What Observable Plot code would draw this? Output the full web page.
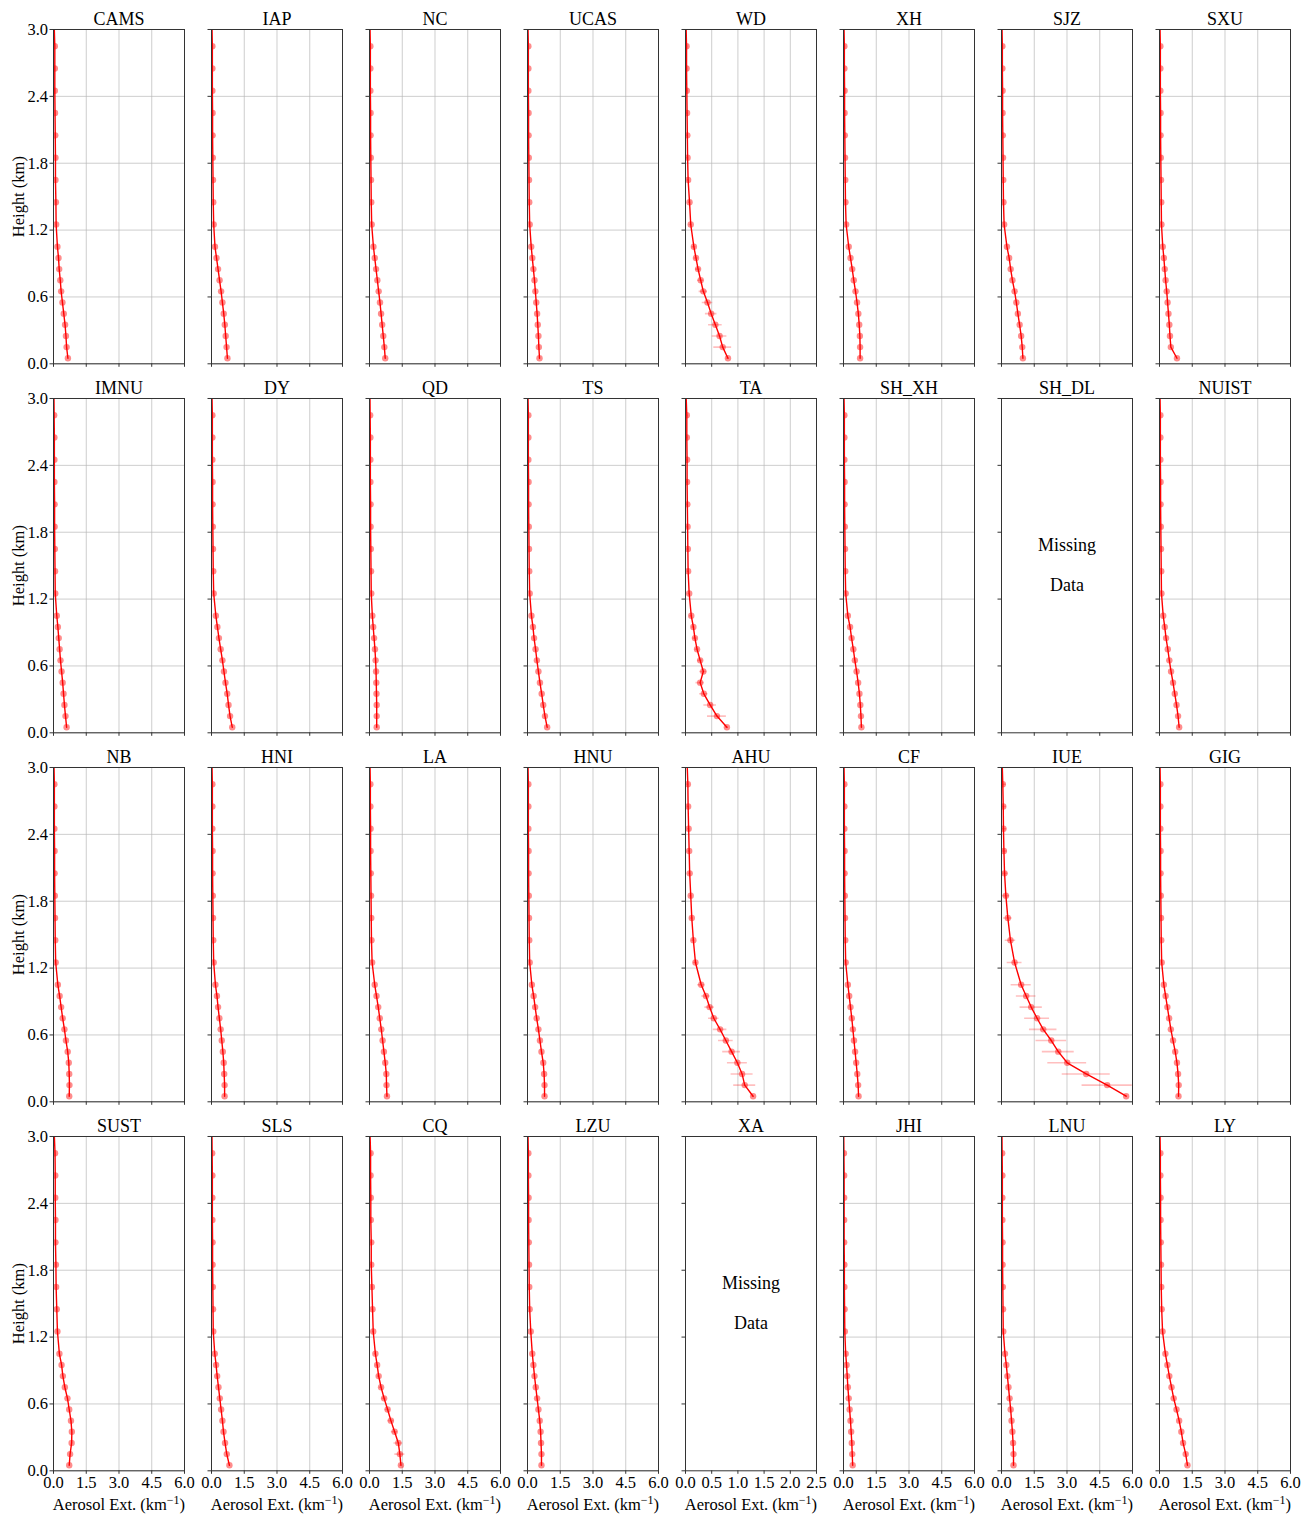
<!DOCTYPE html>
<html><head><meta charset="utf-8">
<script src="https://cdn.jsdelivr.net/npm/d3@7"></script>
<script src="https://cdn.jsdelivr.net/npm/@observablehq/plot@0.6"></script>
<style>
body{margin:0;background:#fff;}
#grid{position:relative;width:1312px;height:1517px;background:#fff;overflow:hidden;}
#grid svg{position:absolute;}
</style></head><body><div id="grid"></div>
<script>
// heights (km) of the profile points; last point lies above the 3 km top and is clipped
const heights = [0.05,0.15,0.25,0.35,0.45,0.55,0.65,0.75,0.85,0.95,1.05,1.25,1.45,1.65,1.85,2.05,2.25,2.45,2.65,2.85,3.05];
const yTicks = [0, 0.6, 1.2, 1.8, 2.4, 3.0];
const xTicksWide = [0, 1.5, 3.0, 4.5, 6.0];
const xTicksNarrow = [0, 0.5, 1.0, 1.5, 2.0, 2.5];

const stations = ["CAMS","IAP","NC","UCAS","WD","XH","SJZ","SXU",
                  "IMNU","DY","QD","TS","TA","SH_XH","SH_DL","NUIST",
                  "NB","HNI","LA","HNU","AHU","CF","IUE","GIG",
                  "SUST","SLS","CQ","LZU","XA","JHI","LNU","LY"];

// aerosol extinction (km^-1) per station
const CAMS  = [0.66,0.60,0.57,0.53,0.47,0.41,0.35,0.31,0.26,0.23,0.18,0.12,0.11,0.09,0.09,0.08,0.07,0.06,0.06,0.06,0.03];
const IAP   = [0.73,0.69,0.65,0.61,0.56,0.50,0.44,0.37,0.30,0.23,0.16,0.10,0.08,0.07,0.06,0.05,0.05,0.04,0.04,0.04,0.02];
const NC    = [0.72,0.68,0.63,0.58,0.53,0.48,0.42,0.36,0.30,0.24,0.18,0.10,0.08,0.07,0.06,0.05,0.05,0.04,0.04,0.04,0.02];
const UCAS  = [0.55,0.52,0.50,0.47,0.44,0.40,0.36,0.32,0.27,0.22,0.17,0.10,0.08,0.07,0.06,0.05,0.05,0.04,0.04,0.04,0.02];
const WD    = [0.81,0.71,0.65,0.57,0.49,0.42,0.34,0.29,0.24,0.20,0.16,0.10,0.077,0.05,0.04,0.035,0.03,0.025,0.02,0.02,0.01];
const XH    = [0.76,0.76,0.75,0.72,0.68,0.62,0.55,0.47,0.40,0.32,0.24,0.12,0.09,0.08,0.07,0.06,0.05,0.05,0.04,0.04,0.02];
const SJZ   = [0.98,0.95,0.90,0.83,0.75,0.68,0.60,0.50,0.42,0.35,0.25,0.12,0.09,0.08,0.07,0.06,0.05,0.05,0.04,0.04,0.02];
const SXU   = [0.80,0.52,0.48,0.45,0.41,0.37,0.33,0.28,0.24,0.20,0.15,0.09,0.08,0.07,0.06,0.05,0.05,0.04,0.04,0.04,0.02];
const IMNU  = [0.60,0.55,0.50,0.46,0.42,0.37,0.32,0.28,0.24,0.20,0.15,0.08,0.07,0.06,0.05,0.05,0.04,0.04,0.04,0.03,0.02];
const DY    = [0.95,0.85,0.78,0.72,0.64,0.57,0.50,0.42,0.34,0.27,0.20,0.10,0.08,0.07,0.06,0.05,0.05,0.04,0.04,0.04,0.02];
const QD    = [0.33,0.33,0.33,0.32,0.31,0.30,0.28,0.25,0.21,0.17,0.13,0.08,0.07,0.06,0.05,0.05,0.04,0.04,0.04,0.03,0.02];
const TS    = [0.90,0.80,0.72,0.65,0.57,0.50,0.43,0.37,0.30,0.25,0.18,0.10,0.08,0.07,0.06,0.05,0.05,0.04,0.04,0.04,0.02];
const TA    = [0.79,0.60,0.47,0.35,0.28,0.34,0.28,0.22,0.18,0.15,0.11,0.07,0.05,0.045,0.04,0.035,0.03,0.03,0.025,0.025,0.01];
const SH_XH = [0.82,0.80,0.77,0.73,0.67,0.60,0.52,0.45,0.37,0.30,0.20,0.10,0.08,0.07,0.06,0.05,0.05,0.04,0.04,0.04,0.02];
const SH_DL = null;
const NUIST = [0.90,0.85,0.78,0.70,0.62,0.53,0.45,0.38,0.30,0.24,0.17,0.09,0.08,0.07,0.06,0.05,0.05,0.04,0.04,0.04,0.02];
const NB    = [0.72,0.73,0.72,0.70,0.65,0.57,0.50,0.42,0.35,0.28,0.20,0.10,0.08,0.07,0.06,0.05,0.05,0.04,0.04,0.04,0.02];
const HNI   = [0.60,0.60,0.58,0.56,0.52,0.47,0.42,0.36,0.30,0.25,0.18,0.10,0.08,0.07,0.06,0.05,0.05,0.04,0.04,0.04,0.02];
const LA    = [0.80,0.78,0.77,0.72,0.66,0.60,0.54,0.47,0.40,0.32,0.24,0.12,0.09,0.08,0.07,0.06,0.05,0.05,0.04,0.04,0.02];
const HNU   = [0.78,0.78,0.76,0.72,0.64,0.57,0.50,0.42,0.35,0.28,0.20,0.10,0.08,0.07,0.06,0.05,0.05,0.04,0.04,0.04,0.02];
const AHU   = [1.29,1.13,1.08,0.99,0.88,0.77,0.66,0.54,0.46,0.39,0.30,0.19,0.15,0.12,0.10,0.08,0.07,0.06,0.05,0.045,0.03];
const CF    = [0.69,0.67,0.63,0.58,0.53,0.48,0.43,0.38,0.32,0.26,0.20,0.10,0.08,0.07,0.06,0.05,0.05,0.04,0.04,0.04,0.02];
const IUE   = [5.71,4.84,3.88,3.01,2.60,2.28,1.91,1.63,1.36,1.13,0.90,0.60,0.41,0.29,0.20,0.14,0.11,0.09,0.08,0.06,0.03];
const GIG   = [0.87,0.88,0.85,0.80,0.72,0.62,0.52,0.44,0.36,0.28,0.20,0.10,0.08,0.07,0.06,0.05,0.05,0.04,0.04,0.04,0.02];
const SUST  = [0.72,0.76,0.83,0.84,0.80,0.72,0.64,0.52,0.43,0.37,0.27,0.18,0.15,0.12,0.11,0.09,0.09,0.08,0.08,0.07,0.03];
const SLS   = [0.82,0.70,0.62,0.55,0.50,0.44,0.38,0.32,0.26,0.21,0.15,0.08,0.07,0.06,0.05,0.05,0.04,0.04,0.04,0.03,0.02];
const CQ    = [1.44,1.39,1.32,1.15,0.98,0.83,0.67,0.53,0.42,0.35,0.27,0.17,0.14,0.11,0.08,0.08,0.06,0.06,0.05,0.05,0.02];
const LZU   = [0.64,0.64,0.62,0.60,0.56,0.50,0.44,0.38,0.32,0.27,0.22,0.15,0.10,0.08,0.07,0.06,0.05,0.05,0.04,0.04,0.02];
const XA    = null;
const JHI   = [0.42,0.40,0.38,0.35,0.32,0.28,0.24,0.20,0.17,0.14,0.10,0.06,0.05,0.04,0.04,0.03,0.03,0.03,0.03,0.02,0.01];
const LNU   = [0.55,0.55,0.53,0.50,0.46,0.42,0.37,0.32,0.27,0.22,0.16,0.08,0.07,0.06,0.05,0.05,0.04,0.04,0.04,0.03,0.02];
const LY    = [1.28,1.20,1.08,1.00,0.90,0.78,0.65,0.55,0.45,0.36,0.27,0.14,0.10,0.08,0.07,0.06,0.05,0.05,0.04,0.04,0.02];

// standard deviations (horizontal error bars) where visible
const WD_err  = [0.03,0.17,0.14,0.13,0.11,0.10,0.08,0.06,0.05,0.04,0.04,0.03,0.02,0.02,0.02,0.02,0.02,0.02,0.02,0.02,0];
const TA_err  = [0.03,0.18,0.12,0.08,0.08,0.07,0.05,0.04,0.04,0.03,0.03,0.02,0.02,0.02,0.02,0.02,0.02,0.02,0.02,0.02,0];
const AHU_err = [0.02,0.21,0.21,0.19,0.17,0.14,0.13,0.10,0.09,0.08,0.07,0.04,0.03,0.03,0.02,0.02,0.02,0.02,0.02,0.02,0];
const IUE_err = [0.05,1.15,1.10,0.89,0.73,0.70,0.63,0.57,0.51,0.45,0.46,0.34,0.24,0.20,0.18,0.15,0.15,0.15,0.15,0.15,0];
const CQ_err  = [0.05,0.23,0.20,0.15,0.15,0.12,0.10,0.08,0.06,0.05,0.05,0.03,0.03,0.02,0.02,0.02,0.02,0.02,0.02,0.02,0];

const values = {CAMS,IAP,NC,UCAS,WD,XH,SJZ,SXU,IMNU,DY,QD,TS,TA,SH_XH,SH_DL,NUIST,NB,HNI,LA,HNU,AHU,CF,IUE,GIG,SUST,SLS,CQ,LZU,XA,JHI,LNU,LY};
const errors = {WD: WD_err, TA: TA_err, AHU: AHU_err, IUE: IUE_err, CQ: CQ_err};

const FONT = "'Liberation Serif', 'Times New Roman', serif";
const grid = document.getElementById("grid");
const ML = 54, MR = 12, MT = 30, MB = 50;
const PW = 131, PH = 334.3;
const fmt = d3.format(".1f");
const XLABEL = "Aerosol Ext. (km−1)";

stations.forEach((name, i) => {
  const col = i % 8, row = Math.floor(i / 8);
  const narrow = col === 4;
  const xTicks = narrow ? xTicksNarrow : xTicksWide;
  const xmax = narrow ? 2.5 : 6;
  const vals = values[name];
  const errs = errors[name];
  const data = vals ? heights.map((h, k) => ({h, v: vals[k], e: errs ? errs[k] : 0})) : [];
  const pts = data.filter(d => d.h < 3);
  const marks = [];
  if (vals) {
    marks.push(Plot.gridX(xTicks, {stroke: "#b8b8b8", strokeOpacity: 0.7, strokeWidth: 1}));
    marks.push(Plot.gridY(yTicks, {stroke: "#b8b8b8", strokeOpacity: 0.7, strokeWidth: 1}));
    if (errs) marks.push(Plot.ruleY(pts, {y: "h", x1: d => d.v - d.e, x2: d => d.v + d.e, stroke: "red", strokeOpacity: 0.25, strokeWidth: 1.6, clip: true}));
    marks.push(Plot.dot(pts, {x: "v", y: "h", r: 3.2, fill: "red", fillOpacity: 0.45, stroke: null, clip: true}));
    marks.push(Plot.line(data, {x: "v", y: "h", stroke: "red", strokeWidth: 1.4, clip: true}));
  } else {
    marks.push(Plot.text(["Missing"], {text: d => d, frameAnchor: "middle", dy: -20, fontSize: 18, lineAnchor: "middle"}));
    marks.push(Plot.text(["Data"], {text: d => d, frameAnchor: "middle", dy: 20, fontSize: 18, lineAnchor: "middle"}));
  }
  marks.push(Plot.frame({stroke: "#333", strokeWidth: 1}));
  marks.push(Plot.axisX(xTicks, {tickSize: 3.5, tickPadding: 2, tickFormat: row === 3 ? fmt : () => "", label: null, stroke: "#333"}));
  marks.push(Plot.axisY(yTicks, {tickSize: 3.5, tickPadding: 2, tickFormat: col === 0 ? fmt : () => "", label: null, stroke: "#333"}));
  marks.push(Plot.text([name], {text: d => d, frameAnchor: "top", dy: -10, lineAnchor: "middle", fontSize: 18}));
  if (col === 0) marks.push(Plot.text(["Height (km)"], {text: d => d, frameAnchor: "left", dx: -35, rotate: -90, textAnchor: "middle", lineAnchor: "middle", fontSize: 16.5}));
  if (row === 3) marks.push(Plot.text([XLABEL], {text: d => d, frameAnchor: "bottom", dy: 34, textAnchor: "middle", lineAnchor: "middle", fontSize: 16.5}));

  const svg = Plot.plot({
    width: ML + PW + MR,
    height: MT + PH + MB,
    marginLeft: ML, marginRight: MR, marginTop: MT, marginBottom: MB,
    x: {domain: [0, xmax], axis: null},
    y: {domain: [0, 3], axis: null},
    style: {background: "transparent", overflow: "visible", fontFamily: FONT, fontSize: "16.5px", color: "#000"},
    marks
  });
  // typeset the exponent of the unit as a superscript
  svg.querySelectorAll("text").forEach(t => {
    if (t.textContent === XLABEL) {
      t.textContent = "";
      const ns = "http://www.w3.org/2000/svg";
      const a = document.createElementNS(ns, "tspan"); a.textContent = "Aerosol Ext. (km";
      const b = document.createElementNS(ns, "tspan"); b.textContent = "−1";
      b.setAttribute("font-size", "12px"); b.setAttribute("dy", "-6");
      const c = document.createElementNS(ns, "tspan"); c.textContent = ")"; c.setAttribute("dy", "6");
      t.append(a, b, c);
    }
  });
  svg.style.left = (53.3 + 158 * col - ML) + "px";
  svg.style.top = (29 + 369 * row - MT) + "px";
  grid.appendChild(svg);
});
</script>
</body></html>
